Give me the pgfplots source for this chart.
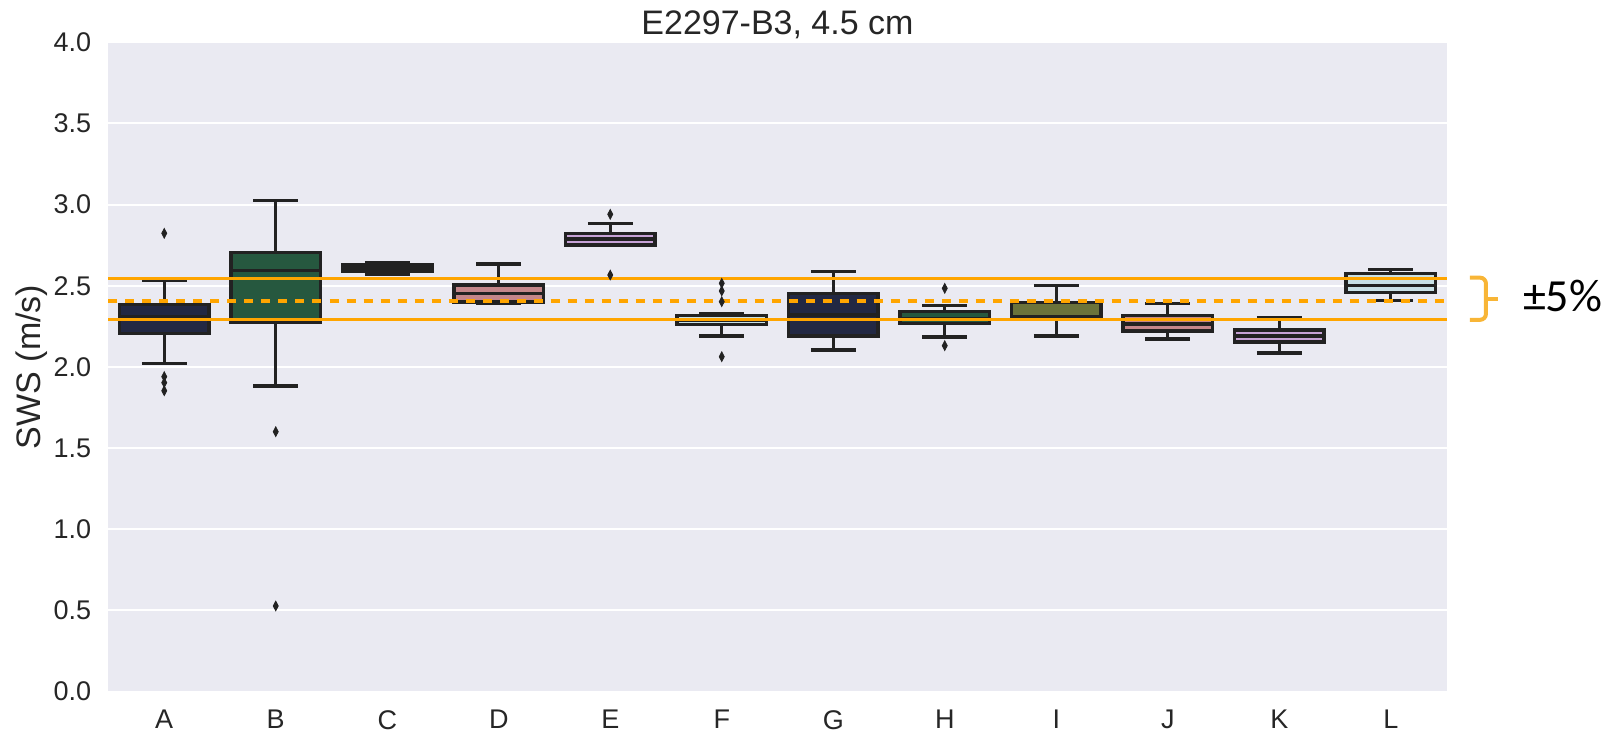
\documentclass[border=0pt]{standalone}
\usepackage{fontspec}
\setmainfont{Liberation Sans}
\newfontfamily\carlito{Carlito}
\usepackage{pgfplots}
\pgfplotsset{compat=1.18}
\usepgfplotslibrary{statistics}
\definecolor{bgcol}{HTML}{EAEAF2}
\definecolor{edgecol}{HTML}{222222}
\definecolor{textcol}{HTML}{262626}
\definecolor{cnavy}{HTML}{222843}
\definecolor{cgreen}{HTML}{26583F}
\definecolor{colive}{HTML}{6B733B}
\definecolor{cpink}{HTML}{C4868A}
\definecolor{clilac}{HTML}{C6A2D6}
\definecolor{cblue}{HTML}{C8E0E6}
\definecolor{lineorange}{HTML}{FFA500}
\definecolor{braceorange}{HTML}{F8B536}
\pgfplotsset{
  boxplot/draw direction=y,
  mybox/.style={line width=1.7bp, draw=edgecol, mark=diamond*, mark size=2.4bp,
    mark options={fill=edgecol, draw=edgecol, line width=0.4bp, xscale=0.7, solid}},
}
\begin{document}
\begin{tikzpicture}
\begin{axis}[
  at={(0,0)}, anchor=south west,
  scale only axis, width=669bp, height=324.6bp,
  xmin=-0.5, xmax=11.5, ymin=0, ymax=4,
  clip=false,
  axis background/.style={fill=bgcol},
  axis line style={draw=none},
  major tick length=0pt, tick style={draw=none},
  ymajorgrids, grid style={white, line width=1bp},
  xtick={0,1,2,3,4,5,6,7,8,9,10,11},
  xticklabels={A,B,C,D,E,F,G,H,I,J,K,L},
  ytick={0,0.5,1,1.5,2,2.5,3,3.5,4},
  yticklabels={0.0,0.5,1.0,1.5,2.0,2.5,3.0,3.5,4.0},
  ticklabel style={font=\fontsize{13.5bp}{16bp}\selectfont, text=textcol},
  xticklabel style={inner sep=0pt, anchor=north, yshift=-9.25bp},
  yticklabel style={inner sep=0pt, anchor=east, xshift=-8.5bp},
  ylabel={SWS (m/s)},
  ylabel style={at={(axis description cs:-0.0575,0.5)}, anchor=center, inner sep=0pt,
    font=\fontsize{17bp}{20bp}\selectfont, text=textcol},
  title={E2297-B3, 4.5 cm},
  title style={at={(axis description cs:0.5,1)}, anchor=base, yshift=-2.32bp, inner sep=0pt,
    font=\fontsize{17bp}{20bp}\selectfont, text=textcol},
]
% A
\addplot[mybox, fill=cnavy, boxplot prepared={draw direction=y, draw position=0, lower whisker=2.020, lower quartile=2.207, median=2.31, upper quartile=2.383, upper whisker=2.535, box extend=0.8, whisker extend=0.4}]
  coordinates {(0,2.823) (0,1.940) (0,1.903) (0,1.853)};
% B
\addplot[mybox, fill=cgreen, boxplot prepared={draw direction=y, draw position=1, lower whisker=1.882, lower quartile=2.272, median=2.593, upper quartile=2.705, upper whisker=3.024, box extend=0.8, whisker extend=0.4}]
  coordinates {(1,1.601) (1,0.527)};
% C
\addplot[mybox, fill=colive, boxplot prepared={draw direction=y, draw position=2, lower whisker=2.571, lower quartile=2.589, median=2.61, upper quartile=2.630, upper whisker=2.645, box extend=0.8, whisker extend=0.4}]
  coordinates {};
% D
\addplot[mybox, fill=cpink, boxplot prepared={draw direction=y, draw position=3, lower whisker=2.392, lower quartile=2.400, median=2.453, upper quartile=2.505, upper whisker=2.634, box extend=0.8, whisker extend=0.4}]
  coordinates {};
% E
\addplot[mybox, fill=clilac, boxplot prepared={draw direction=y, draw position=4, lower whisker=2.752, lower quartile=2.752, median=2.788, upper quartile=2.822, upper whisker=2.882, box extend=0.8, whisker extend=0.4}]
  coordinates {(4,2.940) (4,2.566)};
% F
\addplot[mybox, fill=cblue, boxplot prepared={draw direction=y, draw position=5, lower whisker=2.190, lower quartile=2.262, median=2.29, upper quartile=2.318, upper whisker=2.325, box extend=0.8, whisker extend=0.4}]
  coordinates {(5,2.515) (5,2.468) (5,2.402) (5,2.063)};
% G
\addplot[mybox, fill=cnavy, boxplot prepared={draw direction=y, draw position=6, lower whisker=2.104, lower quartile=2.190, median=2.32, upper quartile=2.452, upper whisker=2.588, box extend=0.8, whisker extend=0.4}]
  coordinates {};
% H
\addplot[mybox, fill=cgreen, boxplot prepared={draw direction=y, draw position=7, lower whisker=2.185, lower quartile=2.266, median=2.30, upper quartile=2.343, upper whisker=2.380, box extend=0.8, whisker extend=0.4}]
  coordinates {(7,2.484) (7,2.131)};
% I
\addplot[mybox, fill=colive, boxplot prepared={draw direction=y, draw position=8, lower whisker=2.190, lower quartile=2.300, median=2.31, upper quartile=2.395, upper whisker=2.500, box extend=0.8, whisker extend=0.4}]
  coordinates {};
% J
\addplot[mybox, fill=cpink, boxplot prepared={draw direction=y, draw position=9, lower whisker=2.172, lower quartile=2.222, median=2.265, upper quartile=2.315, upper whisker=2.392, box extend=0.8, whisker extend=0.4}]
  coordinates {};
% K
\addplot[mybox, fill=clilac, boxplot prepared={draw direction=y, draw position=10, lower whisker=2.086, lower quartile=2.153, median=2.19, upper quartile=2.228, upper whisker=2.305, box extend=0.8, whisker extend=0.4}]
  coordinates {};
% L
\addplot[mybox, fill=cblue, boxplot prepared={draw direction=y, draw position=11, lower whisker=2.410, lower quartile=2.458, median=2.50, upper quartile=2.575, upper whisker=2.600, box extend=0.8, whisker extend=0.4}]
  coordinates {};
% reference lines
\addplot[lineorange, line width=1.5bp, no marks] coordinates {(-0.5,2.542) (11.5,2.542)};
\addplot[lineorange, line width=1.5bp, no marks] coordinates {(-0.5,2.295) (11.5,2.295)};
\addplot[lineorange, line width=2bp, no marks, dash pattern=on 4.5bp off 4bp] coordinates {(-0.5,2.406) (11.5,2.406)};
% bracket and label
\draw[braceorange, line width=2bp, rounded corners=3bp]
  (axis cs:11.71,2.55) -- (axis cs:11.854,2.55) -- (axis cs:11.854,2.29) -- (axis cs:11.71,2.29);
\draw[braceorange, line width=2bp] (axis cs:11.854,2.42) -- (axis cs:11.961,2.42);
\node[anchor=base west, inner sep=0pt, font=\carlito\fontsize{23bp}{26bp}\selectfont]
  at (axis cs:12.183,2.340) {±5\%};
\end{axis}
\pgfresetboundingbox
\path[use as bounding box] (-54.25bp,-20.75bp) rectangle (755.75bp,345.75bp);
\end{tikzpicture}
\end{document}
